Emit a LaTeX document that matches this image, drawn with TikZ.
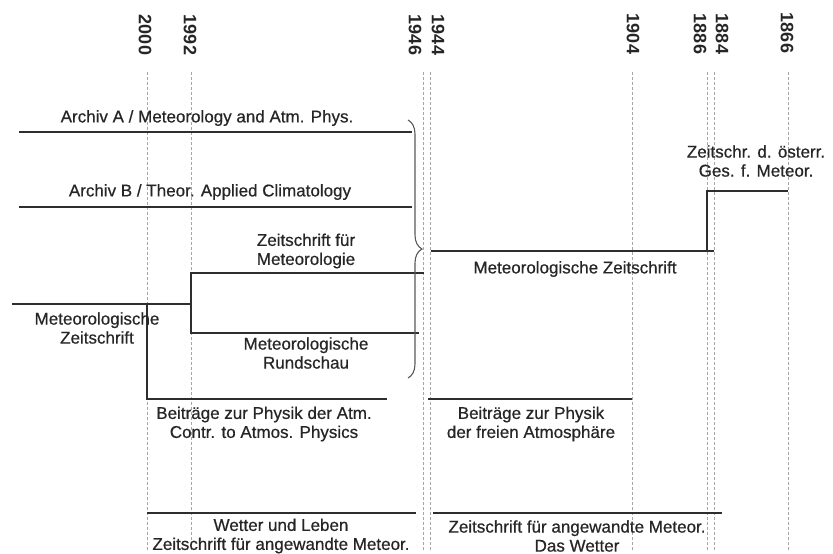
\documentclass[tikz,border=0pt]{standalone}
\usepackage{fontspec}
\setmainfont{Liberation Sans}
\newfontfamily\heavytitle[FakeBold=0.6]{Liberation Sans}
\usetikzlibrary{decorations.pathreplacing}
\begin{document}
\begin{tikzpicture}[x=1pt,y=-1pt,
  journal/.style={draw=black!82, line width=1.5pt},
  yearline/.style={draw=black!35, line width=0.6pt, dash pattern=on 3pt off 2pt},
  yearlab/.style={font=\fontsize{18}{18}\selectfont\bfseries, rotate=-90, inner sep=0pt, text=black!85},
  title/.style={font=\heavytitle\fontsize{17}{19}\selectfont, align=center, inner sep=0pt, text=black!85},
  bracestyle/.style={draw=black!65, line width=1.1pt, decorate, decoration={brace, amplitude=14pt}}
]
\useasboundingbox (0,0) rectangle (833,554);

% year grid lines
\foreach \n/\x in {2000/147,1992/191,1946/423,1944/430,1904/632,1886/707,1884/714,1866/788}{
  \coordinate (t\n) at (\x,72);
  \coordinate (b\n) at (\x,550);
  \draw[yearline] (t\n) -- (b\n);
}

% year labels
\node[yearlab] (L2000) at (145,35) {2000};
\node[yearlab] (L1992) at (190,35) {1992};
\node[yearlab] (L1946) at (415,35) {1946};
\node[yearlab] (L1944) at (438,35) {1944};
\node[yearlab] (L1904) at (633,34) {1904};
\node[yearlab] (L1886) at (700,34) {1886};
\node[yearlab] (L1884) at (722,34) {1884};
\node[yearlab] (L1866) at (787,33) {1866};

% journal lines
\coordinate (aA0) at (19,132);  \coordinate (aA1) at (412,132);
\coordinate (aB0) at (19,207);  \coordinate (aB1) at (412,207);
\coordinate (zm0) at (191,273); \coordinate (zm1) at (424,273);
\coordinate (mr0) at (191,333); \coordinate (mr1) at (419,333);
\coordinate (ml0) at (12,304);  \coordinate (ml1) at (191,304);
\coordinate (bp0) at (147,304); \coordinate (bp1) at (147,399); \coordinate (bp2) at (387,399);
\coordinate (mz0) at (431,251); \coordinate (mz1) at (714,251);
\coordinate (oe0) at (707,251); \coordinate (oe1) at (707,191); \coordinate (oe2) at (788,191);
\coordinate (bf0) at (428,399); \coordinate (bf1) at (632,399);
\coordinate (wl0) at (147,513); \coordinate (wl1) at (416,513);
\coordinate (za0) at (433,513); \coordinate (za1) at (722,513);

\draw[journal,line width=1.3pt] (aA0) -- (aA1);
\draw[journal,line width=1.3pt] (aB0) -- (aB1);
\draw[journal] (zm1) -- (zm0) -- (mr0) -- (mr1);
\draw[journal] (ml0) -- (ml1);
\draw[journal] (bp0) -- (bp1) -- (bp2);
\draw[journal] (mz0) -- (mz1);
\draw[journal] (oe0) -- (oe1) -- (oe2);
\draw[journal] (bf0) -- (bf1);
\draw[journal,line width=1.3pt] (wl0) -- (wl1);
\draw[journal,line width=1.3pt] (za0) -- (za1);

% brace
\coordinate (br0) at (408,120);
\coordinate (br1) at (408,378);
\draw[bracestyle] (br0) -- (br1);

% titles
\node[title] (tA)  at (207,118) {Archiv A / Meteorology and Atm. Phys.};
\node[title] (tB)  at (210,192) {Archiv B / Theor. Applied Climatology};
\node[title] (tZM) at (306,251) {Zeitschrift für\\Meteorologie};
\node[title] (tML) at (97,328)  {Meteorologische\\Zeitschrift};
\node[title] (tMR) at (306,353) {Meteorologische\\Rundschau};
\node[title] (tBA) at (264,424) {Beiträge zur Physik der Atm.\\Contr. to Atmos. Physics};
\node[title] (tMZ) at (575,269) {Meteorologische Zeitschrift};
\node[title] (tOE) at (756,161) {Zeitschr. d. österr.\\Ges. f. Meteor.};
\node[title] (tBF) at (531,424) {Beiträge zur Physik\\der freien Atmosphäre};
\node[title] (tWL) at (281,536) {Wetter und Leben\\Zeitschrift für angewandte Meteor.};
\node[title] (tDW) at (577,536) {Zeitschrift für angewandte Meteor.\\Das Wetter};
\end{tikzpicture}
\end{document}
